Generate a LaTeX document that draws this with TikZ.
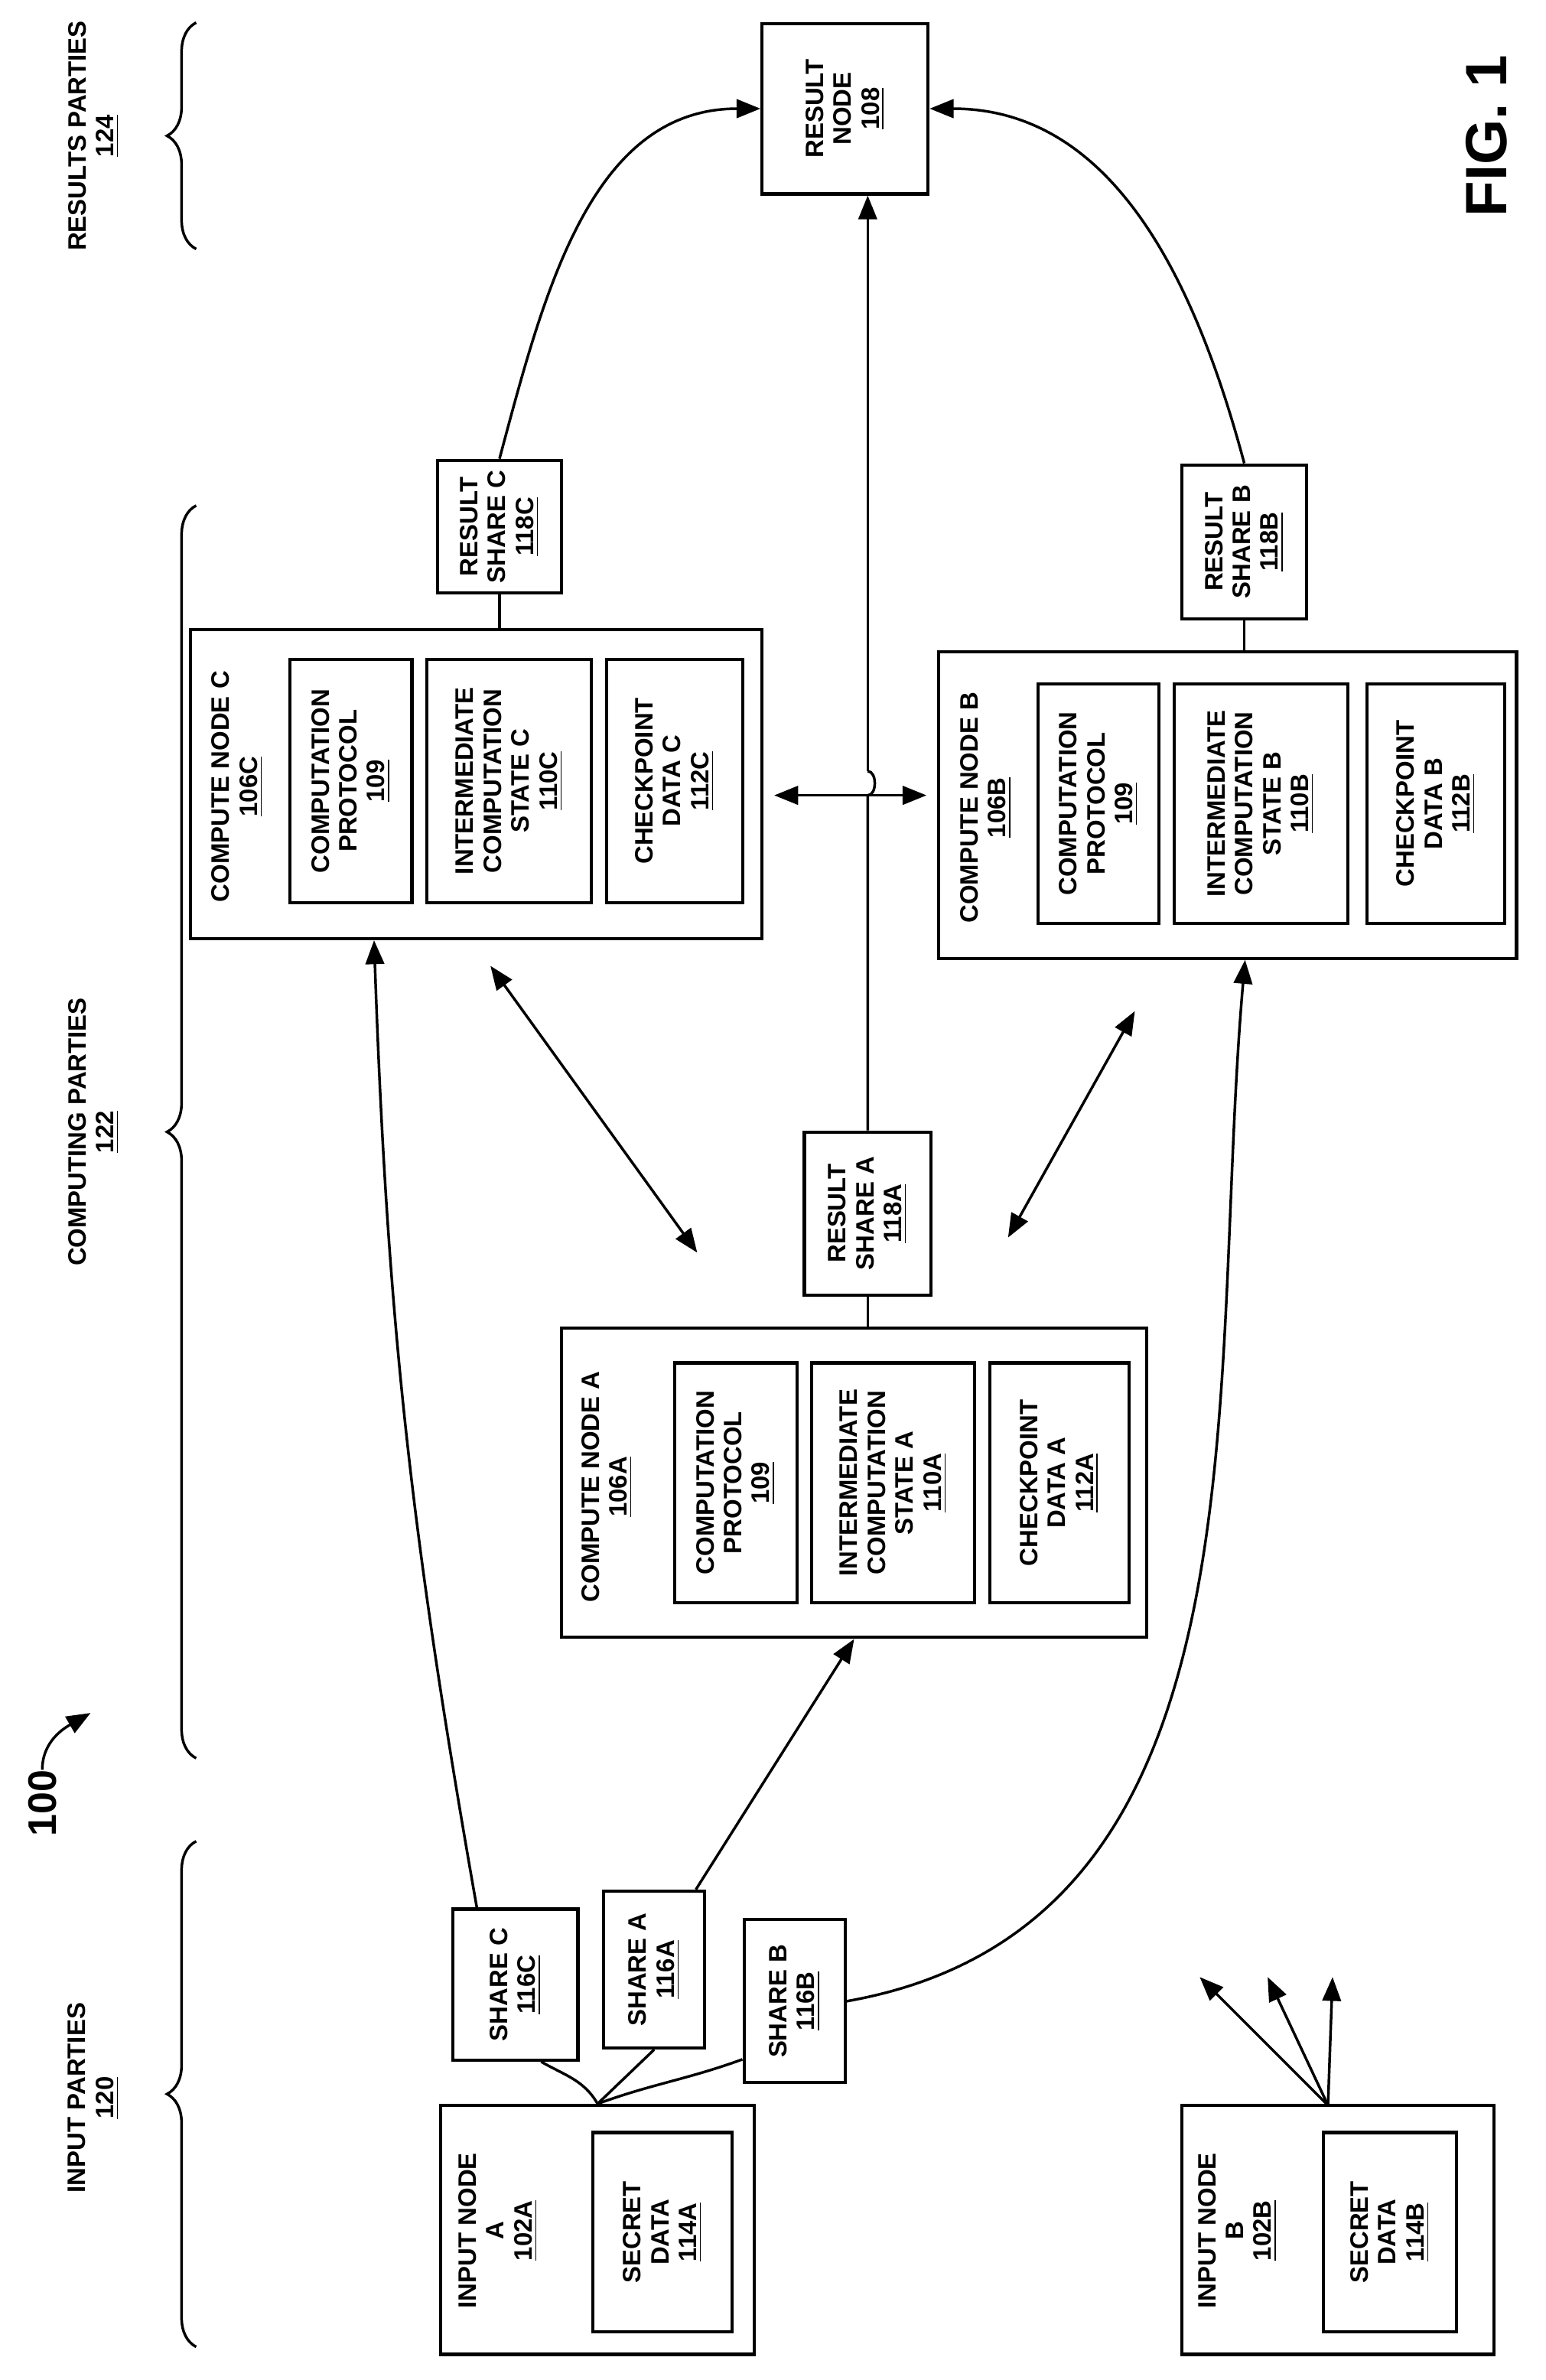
\documentclass[tikz,border=0pt]{standalone}
\usepackage{fontspec}
\setmainfont{Liberation Sans}
\usetikzlibrary{calc,arrows.meta,decorations.pathreplacing}

\begin{document}
\begin{tikzpicture}[
        x=0.02cm, y=-0.02cm,
        font=\fontsize{9.5}{10.5}\selectfont\bfseries,
        box/.style={
            draw,
            line width=1.2pt,
            rotate=90,
            align=center,
            inner sep=1pt
        },
        lbl/.style={rotate=90, align=center, inner sep=0pt},
        link/.style={line width=1pt},
        arr/.style={line width=1pt, -{Triangle[length=9pt,width=7pt]}},
        dbl/.style={line width=1pt, {Triangle[length=9pt,width=7pt]}-{Triangle[length=9pt,width=7pt]}},
        brc/.style={line width=1pt, decorate, decoration={brace, amplitude=11pt}}
    ]
        \useasboundingbox (0,0) rectangle (1024,1577);

        % result node
        \node[box, minimum width=2.26cm, minimum height=2.2cm] (res) at (560,72) {RESULT\\NODE\\\underline{108}};

        % compute node C
        \node[box, minimum width=4.1cm, minimum height=7.58cm] (cC) at (315.5,519.5) {};
        \node[lbl, anchor=north west] (tC) at (140,598) {COMPUTE NODE C\\\underline{106C}};
        \node[box, minimum width=3.22cm, minimum height=1.62cm] (pC) at (232.5,517.5) {COMPUTATION\\PROTOCOL\\\underline{109}};
        \node[box, minimum width=3.22cm, minimum height=2.18cm] (iC) at (337.5,517.5) {INTERMEDIATE\\COMPUTATION\\STATE C\\\underline{110C}};
        \node[box, minimum width=3.22cm, minimum height=1.8cm] (kC) at (447,517.5) {CHECKPOINT\\DATA C\\\underline{112C}};

        % compute node B
        \node[box, minimum width=4.06cm, minimum height=7.66cm] (cB) at (813.5,533.5) {};
        \node[lbl, anchor=north west] (tB) at (636,612) {COMPUTE NODE B\\\underline{106B}};
        \node[box, minimum width=3.18cm, minimum height=1.6cm] (pB) at (728,532.5) {COMPUTATION\\PROTOCOL\\\underline{109}};
        \node[box, minimum width=3.18cm, minimum height=2.3cm] (iB) at (835.5,532.5) {INTERMEDIATE\\COMPUTATION\\STATE B\\\underline{110B}};
        \node[box, minimum width=3.18cm, minimum height=1.82cm] (kB) at (951.5,532.5) {CHECKPOINT\\DATA B\\\underline{112B}};

        % compute node A
        \node[box, minimum width=4.1cm, minimum height=7.76cm] (cA) at (566,982.5) {};
        \node[lbl, anchor=north west] (tA) at (385,1062) {COMPUTE NODE A\\\underline{106A}};
        \node[box, minimum width=3.18cm, minimum height=1.62cm] (pA) at (487.5,982.5) {COMPUTATION\\PROTOCOL\\\underline{109}};
        \node[box, minimum width=3.18cm, minimum height=2.16cm] (iA) at (592,982.5) {INTERMEDIATE\\COMPUTATION\\STATE A\\\underline{110A}};
        \node[box, minimum width=3.18cm, minimum height=1.84cm] (kA) at (702,982.5) {CHECKPOINT\\DATA A\\\underline{112A}};

        % result shares
        \node[box, minimum width=1.76cm, minimum height=1.64cm] (rsC) at (331,349) {RESULT\\SHARE C\\\underline{118C}};
        \node[box, minimum width=2.04cm, minimum height=1.66cm] (rsB) at (824.5,359) {RESULT\\SHARE B\\\underline{118B}};
        \node[box, minimum width=2.16cm, minimum height=1.68cm] (rsA) at (575,804) {RESULT\\SHARE A\\\underline{118A}};

        % input nodes
        \node[box, minimum width=3.3cm, minimum height=4.16cm] (inA) at (396,1477.5) {};
        \node[lbl] (tinA) at (330,1478) {INPUT NODE\\A\\\underline{102A}};
        \node[box, minimum width=2.64cm, minimum height=1.84cm] (sdA) at (439,1479) {SECRET\\DATA\\\underline{114A}};
        \node[box, minimum width=3.3cm, minimum height=4.14cm] (inB) at (886.5,1477.5) {};
        \node[lbl] (tinB) at (820,1478) {INPUT NODE\\B\\\underline{102B}};
        \node[box, minimum width=2.64cm, minimum height=1.76cm] (sdB) at (921,1479) {SECRET\\DATA\\\underline{114B}};

        % shares
        \node[box, minimum width=2cm, minimum height=1.66cm] (shC) at (341.5,1315) {SHARE C\\\underline{116C}};
        \node[box, minimum width=2.08cm, minimum height=1.34cm] (shA) at (433.5,1305) {SHARE A\\\underline{116A}};
        \node[box, minimum width=2.16cm, minimum height=1.34cm] (shB) at (526.5,1326) {SHARE B\\\underline{116B}};

        % braces and party labels
        \coordinate (b1s) at (130,1555);
        \coordinate (b1e) at (130,1220);
        \coordinate (b2s) at (130,1165);
        \coordinate (b2e) at (130,335);
        \coordinate (b3s) at (130,165);
        \coordinate (b3e) at (130,15);
        \draw[brc] (b1s) -- (b1e);
        \draw[brc] (b2s) -- (b2e);
        \draw[brc] (b3s) -- (b3e);
        \node[lbl] (inp) at (62,1390) {INPUT PARTIES\\\underline{120}};
        \node[lbl] (cmp) at (62,750) {COMPUTING PARTIES\\\underline{122}};
        \node[lbl] (rsp) at (62,90) {RESULTS PARTIES\\\underline{124}};

        % labels
        \node[lbl, font=\fontsize{15}{17}\selectfont\bfseries] (ref) at (28,1195) {100};
        \coordinate (refTip) at (60,1135);
        \draw[arr] (ref.east) to[out=90,in=-150] (refTip);
        \node[lbl, font=\fontsize{22}{24}\selectfont\bfseries] (fig) at (985,90) {FIG. 1};

        % results to result node
        \draw[link] (rsC.west |- cC.east) -- (rsC.west);
        \draw[link] (rsB.west |- cB.east) -- (rsB.west);
        \draw[link] (rsA.west |- cA.east) -- (rsA.west);
        \draw[arr] (rsC.east) to[out=75,in=180] (res.north);
        \draw[arr] (rsB.east) to[out=105,in=0] (res.south);
        \coordinate (hopLo) at (575,527);
        \coordinate (hopHi) at (575,511);
        \draw[link] (rsA.east) -- (hopLo) to[out=0,in=0] (hopHi);
        \draw[arr] (hopHi) -- (hopHi |- res.west);

        % compute node links
        \draw[dbl, shorten <=4pt, shorten >=4pt] (cC.south |- hopLo) -- (cB.north |- hopLo);
        \coordinate (cCd) at (325,640);
        \coordinate (cAd) at (462,830);
        \coordinate (cBd) at (752,670);
        \coordinate (cAe) at (668,820);
        \draw[dbl] (cCd) -- (cAd);
        \draw[dbl] (cBd) -- (cAe);

        % input node A to shares
        \draw[link] (inA.east) to[out=120,in=-30] ($(shC.west)!0.4!(shC.south west)$);
        \draw[link] (inA.east) -- (shA.west);
        \draw[link] (inA.east) to[out=20,in=200] ($(shB.north)!0.7!(shB.north west)$);
        \draw[arr] ($(shC.east)!0.6!(shC.north east)$) to[out=100,in=-88] ($(cC.west)!0.355!(cC.north west)$);
        \draw[arr] ($(shA.east)!0.8!(shA.south east)$) -- (cA.west);
        \draw[arr] (shB.south) to[out=10,in=-95] ($(cB.west)!0.06!(cB.south west)$);

        % input node B to shares
        \coordinate (oB) at (880,1395);
        \coordinate (sB1) at (795,1310);
        \coordinate (sB2) at (840,1310);
        \coordinate (sB3) at (883,1310);
        \draw[arr] (oB) -- (sB1);
        \draw[arr] (oB) -- (sB2);
        \draw[arr] (oB) -- (sB3);
    \end{tikzpicture}
\end{document}
